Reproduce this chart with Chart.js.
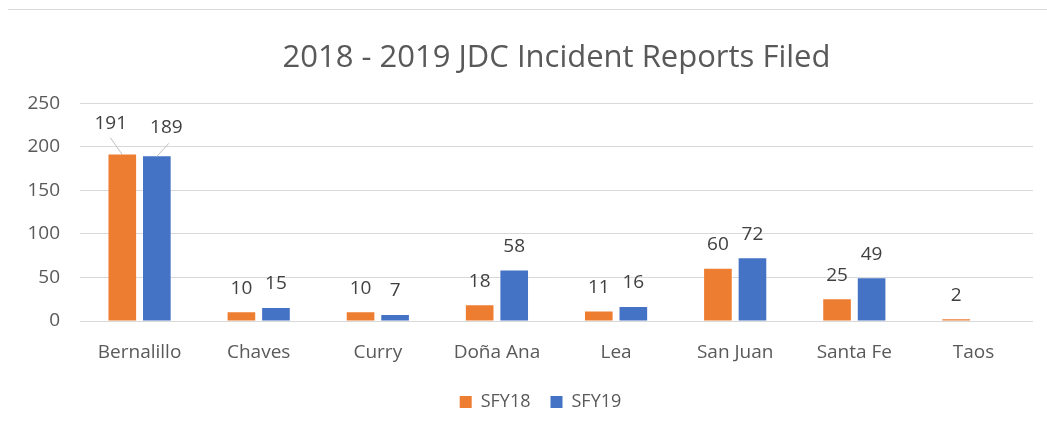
<!DOCTYPE html>
<html><head><meta charset="utf-8">
<script src="https://cdn.jsdelivr.net/npm/chart.js@4"></script>
<style>
html,body{margin:0;padding:0;background:#fff;}
#wrap{position:relative;width:1047px;height:433px;}
#topline{position:absolute;left:8px;right:0;top:9px;height:1px;background:#d9d9d9;}
canvas{position:absolute;left:0;top:0;}
</style></head>
<body>
<div id="wrap"><div id="topline"></div><canvas id="c" width="1047" height="433"></canvas></div>
<script>
const categories = ["Bernalillo","Chaves","Curry","Doña Ana","Lea","San Juan","Santa Fe","Taos"];
const sfy18 = [191,10,10,18,11,60,25,2];
const sfy19 = [189,15,7,58,16,72,49,null];
const yTicks = [0,50,100,150,200,250];
const FONT = "'Open Sans', sans-serif";

const labelPlugin = {
  id:'valueLabels',
  afterDatasetsDraw(chart){
    const ctx = chart.ctx;
    ctx.save();
    ctx.font = "19px " + FONT;
    ctx.fillStyle = "#404040";
    ctx.textAlign = "center";
    ctx.textBaseline = "middle";
    chart.data.datasets.forEach((ds, di) => {
      const meta = chart.getDatasetMeta(di);
      meta.data.forEach((bar, i) => {
        const v = ds.data[i];
        if (v === null || v === undefined) return;
        let x = bar.x, y = bar.y - 24;
        if (i === 0) {
          x = bar.x + (di === 0 ? -11.5 : 9.5);
          y = bar.y - (di === 0 ? 31 : 29);
          ctx.strokeStyle = "#bfbfbf"; ctx.lineWidth = 1;
          ctx.beginPath();
          ctx.moveTo(bar.x + (di===0?-12:12), bar.y - (di===0?17:13));
          ctx.lineTo(bar.x, bar.y);
          ctx.stroke();
        }
        ctx.fillText(String(v), x, y);
      });
    });
    ctx.restore();
  }
};

const legendShift = {
  id:'legendShift',
  afterLayout(chart){
    const lg = chart.legend;
    if (lg) { lg.left += 24; lg.right += 24; }
  }
};

new Chart(document.getElementById('c'), {
  type:'bar',
  data:{
    labels: categories,
    datasets:[
      {label:'SFY18', data:sfy18, backgroundColor:'#ed7d31', borderWidth:0, categoryPercentage:0.58, barPercentage:0.8},
      {label:'SFY19', data:sfy19, backgroundColor:'#4472c4', borderWidth:0, categoryPercentage:0.58, barPercentage:0.8}
    ]
  },
  options:{
    responsive:false, animation:false,
    layout:{padding:{left:0,right:14,top:0,bottom:12}},
    plugins:{
      title:{display:true, fullSize:false, text:'2018 - 2019 JDC Incident Reports Filed', color:'#595959',
        font:{family:FONT, size:31, weight:'normal'}, padding:{top:40,bottom:26}},
      legend:{position:'bottom', labels:{color:'#595959', font:{family:FONT,size:18}, boxWidth:12, boxHeight:12, padding:20}},
      tooltip:{enabled:false}
    },
    scales:{
      x:{grid:{display:false}, border:{display:false}, ticks:{color:'#595959', font:{family:FONT,size:19}, padding:12},
         afterFit(ax){ ax.height = 52; }},
      y:{min:0,max:250, afterBuildTicks(ax){ax.ticks = yTicks.map(v=>({value:v}));},
         grid:{color:'#d9d9d9', drawTicks:false}, border:{display:false},
         ticks:{color:'#595959', font:{family:FONT,size:19}, padding:20},
         afterFit(ax){ ax.width = 80; }}
    }
  },
  plugins:[labelPlugin, legendShift]
});
</script>
</body></html>
